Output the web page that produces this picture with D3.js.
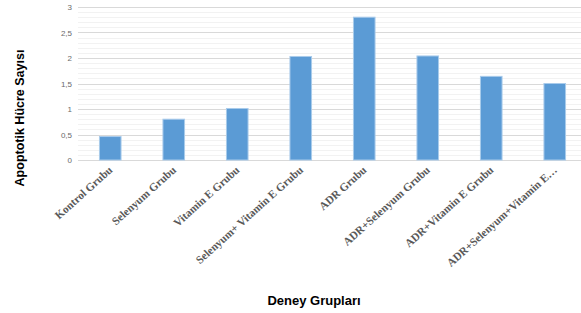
<!DOCTYPE html>
<html><head><meta charset="utf-8">
<script src="https://cdn.jsdelivr.net/npm/d3@7"></script>
<style>body{margin:0;background:#fff}svg{display:block}</style>
</head><body>
<svg id="c" width="581" height="313"></svg>
<script>
const categories = ["Kontrol Grubu","Selenyum Grubu","Vitamin E Grubu","Selenyum+ Vitamin E Grubu","ADR Grubu","ADR+Selenyum Grubu","ADR+Vitamin E Grubu","ADR+Selenyum+Vitamin E…"];
const values = [0.46, 0.80, 1.01, 2.03, 2.80, 2.04, 1.64, 1.50];
const yTicks = [0, 0.5, 1, 1.5, 2, 2.5, 3];
const yTickLabels = ["0","0,5","1","1,5","2","2,5","3"];
const minorTicks = d3.range(0, 31).map(i => i / 10);
const yTitle = "Apoptotik Hücre Sayısı";
const xTitle = "Deney Grupları";

const svg = d3.select("#c");
const x = d3.scaleBand().domain(categories).range([78.5, 586.5]).paddingInner(0.66).paddingOuter(0.33);
const y = d3.scaleLinear().domain([0, 3]).range([160, 7]);
const left = 78, right = 581;

// minor grid
svg.append("g").selectAll("line").data(minorTicks).join("line")
  .attr("x1", left).attr("x2", right)
  .attr("y1", d => Math.round(y(d)) + 0.5).attr("y2", d => Math.round(y(d)) + 0.5)
  .attr("stroke", "#f2f2f2").attr("stroke-width", 1);
// major grid
svg.append("g").selectAll("line").data(yTicks).join("line")
  .attr("x1", left).attr("x2", right)
  .attr("y1", d => Math.round(y(d)) + 0.5).attr("y2", d => Math.round(y(d)) + 0.5)
  .attr("stroke", "#d9d9d9").attr("stroke-width", 1);

// y tick labels
svg.append("g").selectAll("text").data(yTicks).join("text")
  .attr("x", 72).attr("y", d => y(d) + 3)
  .attr("text-anchor", "end")
  .attr("font-family", "Liberation Sans, Arial, sans-serif")
  .attr("font-size", 8).attr("fill", "#6a6a6a")
  .text((d, i) => yTickLabels[i]);

// bars
svg.append("g").selectAll("rect").data(values).join("rect")
  .attr("x", (d, i) => x(categories[i]))
  .attr("width", x.bandwidth())
  .attr("y", d => y(d))
  .attr("height", d => y(0) - y(d))
  .attr("fill", "#5b9bd5")
  .attr("stroke", "#a9cbeb").attr("stroke-width", 1);

// x labels
svg.append("g").selectAll("text").data(categories).join("text")
  .attr("transform", d => `translate(${x(d) + x.bandwidth() / 2 + 3},${171}) rotate(-42)`)
  .attr("text-anchor", "end")
  .attr("font-family", "Liberation Serif, 'Times New Roman', serif")
  .attr("font-weight", "bold")
  .attr("font-size", 11.2).attr("fill", "#595959")
  .text(d => d);

// axis titles
svg.append("text")
  .attr("transform", "translate(24,118) rotate(-90)")
  .attr("text-anchor", "middle")
  .attr("font-family", "Liberation Sans, Arial, sans-serif")
  .attr("font-weight", "bold").attr("font-size", 12.5).attr("fill", "#000")
  .text(yTitle);
svg.append("text")
  .attr("x", 314).attr("y", 305)
  .attr("text-anchor", "middle")
  .attr("font-family", "Liberation Sans, Arial, sans-serif")
  .attr("font-weight", "bold").attr("font-size", 13).attr("fill", "#000")
  .text(xTitle);
</script>
</body></html>
